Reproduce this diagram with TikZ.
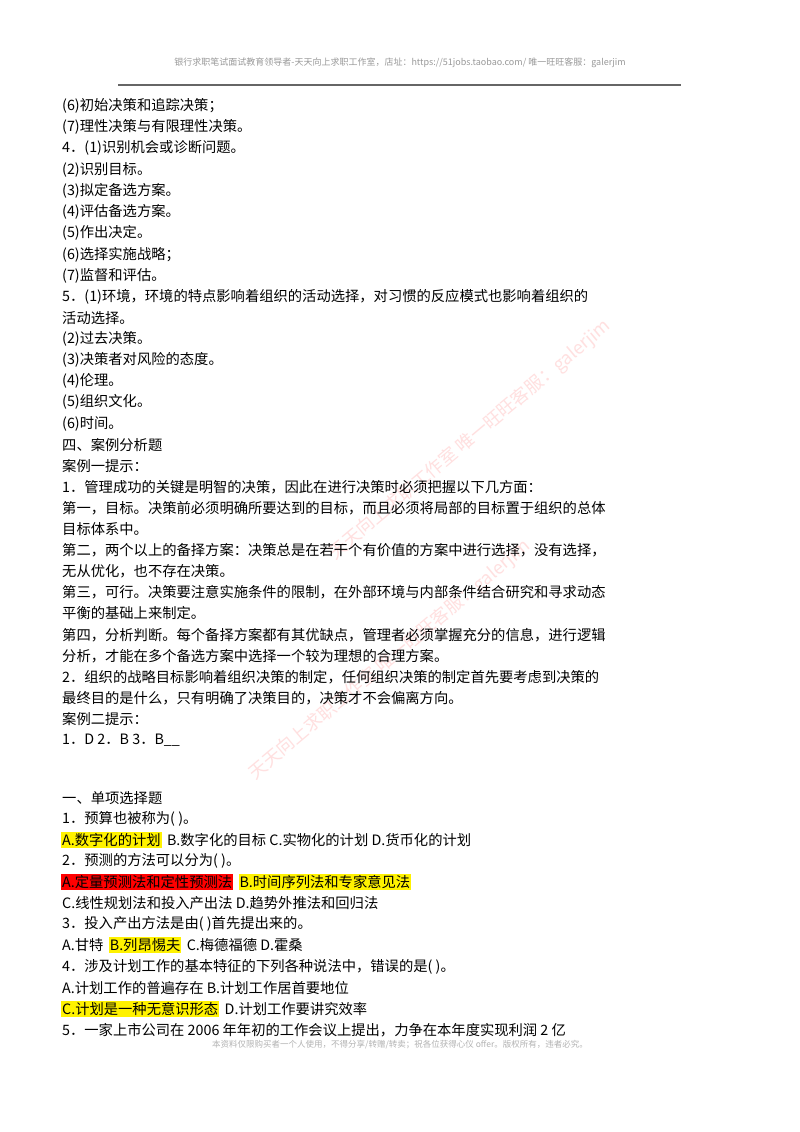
\documentclass[tikz,border=0pt]{standalone}
\usepackage{fontspec}
\setmainfont{Noto Sans CJK SC}
\begin{document}
\begin{tikzpicture}[x=1pt,y=-1pt,
 t/.style={anchor=west,inner sep=0pt,font=\fontsize{14.3}{15}\selectfont},
 hl/.style={t,inner sep=1pt,fill=#1}]
\useasboundingbox (0,0) rectangle (800,1132);
\fill[white] (0,0) rectangle (800,1132);
\node[font=\fontsize{9}{9}\selectfont,text=black!40] (hd) at (400,63) {银行求职笔试面试教育领导者-天天向上求职工作室，店址：https://51jobs.taobao.com/ 唯一旺旺客服：galerjim};
\draw[black!60,line width=1.5pt] (118,85) -- (681,85);
\foreach \p/\a/\s in {470/440/天天向上求职工作室 唯一旺旺客服：galerjim, 390/660/天天向上求职工作室 唯一旺旺客服：galerjim}
 \node[rotate=40,text=red!12,font=\fontsize{18}{18}\selectfont] at (\p,\a) {\s};
\node[t] (l1) at (62,106) {(6)初始决策和追踪决策；};
\node[t] (l2) at (62,127) {(7)理性决策与有限理性决策。};
\node[t] (l3) at (62,148) {4．(1)识别机会或诊断问题。};
\node[t] (l4) at (62,170) {(2)识别目标。};
\node[t] (l5) at (62,191) {(3)拟定备选方案。};
\node[t] (l6) at (62,212) {(4)评估备选方案。};
\node[t] (l7) at (62,233) {(5)作出决定。};
\node[t] (l8) at (62,255) {(6)选择实施战略；};
\node[t] (l9) at (62,276) {(7)监督和评估。};
\node[t] (l10) at (62,297) {5．(1)环境，环境的特点影响着组织的活动选择，对习惯的反应模式也影响着组织的};
\node[t] (l11) at (62,318) {活动选择。};
\node[t] (l12) at (62,339) {(2)过去决策。};
\node[t] (l13) at (62,360) {(3)决策者对风险的态度。};
\node[t] (l14) at (62,381) {(4)伦理。};
\node[t] (l15) at (62,402) {(5)组织文化。};
\node[t] (l16) at (62,424) {(6)时间。};
\node[t] (l17) at (62,445) {四、案例分析题};
\node[t] (l18) at (62,466) {案例一提示：};
\node[t] (l19) at (62,487) {1．管理成功的关键是明智的决策，因此在进行决策时必须把握以下几方面：};
\node[t] (l20) at (62,508) {第一，目标。决策前必须明确所要达到的目标，而且必须将局部的目标置于组织的总体};
\node[t] (l21) at (62,529) {目标体系中。};
\node[t] (l22) at (62,550) {第二，两个以上的备择方案：决策总是在若干个有价值的方案中进行选择，没有选择，};
\node[t] (l23) at (62,571) {无从优化，也不存在决策。};
\node[t] (l24) at (62,592) {第三，可行。决策要注意实施条件的限制，在外部环境与内部条件结合研究和寻求动态};
\node[t] (l25) at (62,613) {平衡的基础上来制定。};
\node[t] (l26) at (62,635) {第四，分析判断。每个备择方案都有其优缺点，管理者必须掌握充分的信息，进行逻辑};
\node[t] (l27) at (62,656) {分析，才能在多个备选方案中选择一个较为理想的合理方案。};
\node[t] (l28) at (62,677) {2．组织的战略目标影响着组织决策的制定，任何组织决策的制定首先要考虑到决策的};
\node[t] (l29) at (62,698) {最终目的是什么，只有明确了决策目的，决策才不会偏离方向。};
\node[t] (l30) at (62,719) {案例二提示：};
\node[t] (l31) at (62,740) {1．D 2．B 3．B\_\_};
\node[t] (l32) at (62,798) {一、单项选择题};
\node[t] (l33) at (62,819) {1．预算也被称为( )。};
\node[hl=yellow] (l34a) at (61,840) {A.数字化的计划};
\node[t] (l34b) at ([xshift=5pt]l34a.east) {B.数字化的目标 C.实物化的计划 D.货币化的计划};
\node[t] (l35) at (62,861) {2．预测的方法可以分为( )。};
\node[hl=red] (l36a) at (61,882) {A.定量预测法和定性预测法};
\node[hl=yellow] (l36b) at ([xshift=5pt]l36a.east) {B.时间序列法和专家意见法};
\node[t] (l37) at (62,903) {C.线性规划法和投入产出法 D.趋势外推法和回归法};
\node[t] (l38) at (62,924) {3．投入产出方法是由( )首先提出来的。};
\node[t] (l39a) at (62,945) {A.甘特};
\node[hl=yellow] (l39b) at ([xshift=5pt]l39a.east) {B.列昂惕夫};
\node[t] (l39c) at ([xshift=5pt]l39b.east) {C.梅德福德 D.霍桑};
\node[t] (l40) at (62,967) {4．涉及计划工作的基本特征的下列各种说法中，错误的是( )。};
\node[t] (l41) at (62,988) {A.计划工作的普遍存在 B.计划工作居首要地位};
\node[hl=yellow] (l42a) at (61,1009) {C.计划是一种无意识形态};
\node[t] (l42b) at ([xshift=5pt]l42a.east) {D.计划工作要讲究效率};
\node[t] (l43) at (62,1030) {5．一家上市公司在 2006 年年初的工作会议上提出，力争在本年度实现利润 2 亿};
\node[font=\fontsize{8.5}{9}\selectfont,text=black!30] (ft) at (400,1045) {本资料仅限购买者一个人使用，不得分享/转赠/转卖；祝各位获得心仪 offer。版权所有，违者必究。};
\end{tikzpicture}
\end{document}
